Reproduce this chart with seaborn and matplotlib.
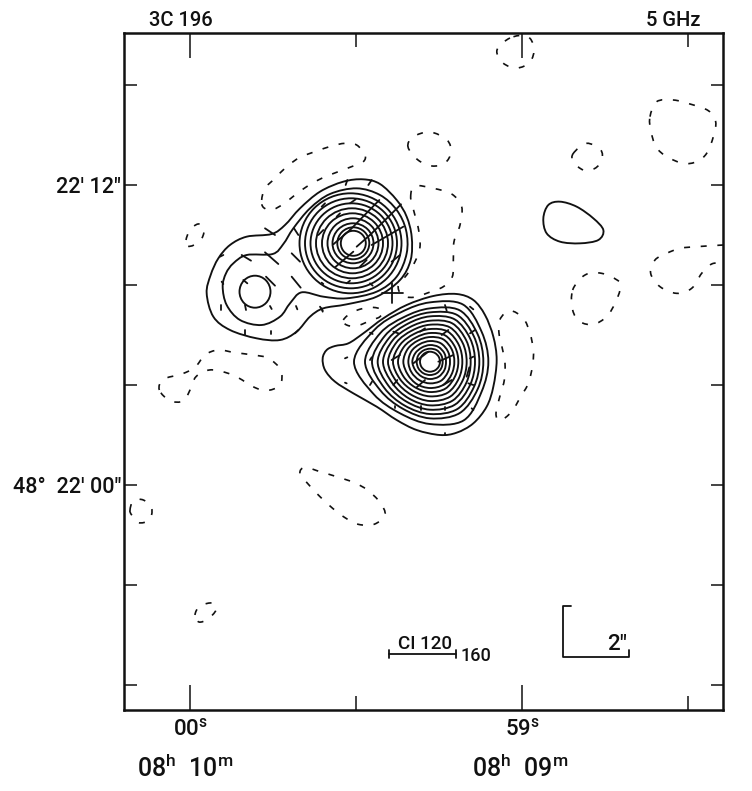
import numpy as np
import pandas as pd
import matplotlib
matplotlib.use("Agg")
import matplotlib.pyplot as plt
from matplotlib.path import Path
from matplotlib.patches import PathPatch, Ellipse
import seaborn as sns

sns.set_theme(style="white")
FONT = ["Roboto", "DejaVu Sans"]
plt.rcParams["font.family"] = FONT
plt.rcParams["font.weight"] = "medium"
plt.rcParams["mathtext.fontset"] = "custom"
plt.rcParams["mathtext.rm"] = "Roboto"
INK = "#111111"

# axis positions (map units)
x_major = [190, 522]
x_minor = [356, 688]
x_labels = ["00$^{\\mathrm{s}}$", "59$^{\\mathrm{s}}$"]
y_ticks = [85, 185, 285, 385, 485, 585, 685]
y_labels = ["", "22\u2032 12\u2033", "", "", "48\u00b0  22\u2032 00\u2033", "", ""]

# solid contours, read per crop
outer_a = [(50,520),(62,465),(85,415),(120,375),(170,350),(245,342),(285,315),(330,265),(390,215),(460,185),(520,178),(570,192),(620,240),(650,290),(665,350),(662,420),(630,480),(560,530),(470,553),(400,565),(360,590),(320,635),(270,660),(200,655),(120,630),(70,590)]
second_a = [(98,500),(108,460),(130,430),(170,405),(248,402),(280,372),(310,325),(360,265),(420,222),(500,205),(570,225),(620,270),(648,330),(650,400),(620,470),(560,515),(470,535),(400,530),(335,517),(300,550),(270,590),(215,615),(150,600),(110,555)]
outer_b = [(38,235),(50,210),(75,198),(115,190),(160,160),(220,115),(290,75),(370,48),(440,42),(490,60),(525,105),(550,170),(560,240),(550,320),(530,380),(490,430),(440,458),(390,465),(320,450),(260,420),(200,380),(130,340),(75,305),(45,270)]
blob_e = [(40,385),(55,345),(90,335),(140,350),(190,385),(220,420),(205,450),(150,460),(90,455),(50,430)]

# rings round peak A and lobe C
ring_a_cx = [350.5, 351, 351.5, 352, 352.5, 353, 353, 353.3, 353.3, 255]
ring_a_cy = [243.3, 243.3, 243.3, 243.3, 243.3, 243.3, 243.3, 243.3, 243.3, 291.7]
ring_a_rx = [51, 46, 41, 36, 30.5, 25.5, 20.5, 16, 12.5, 15.5]
ring_a_ry = [50, 45, 40, 35, 30, 25, 20, 16, 12.5, 16]

# rings round peak B: radius every 30 degrees counter-clockwise from east
peak_b = (430.0, 361.7)
rings_b = [
    [175,179,198,178,172,192,228,195,179,187,203,179],
    [160,165,178,160,155,172,195,172,163,170,178,165],
    [148,152,162,148,144,156,174,158,152,157,164,152],
    [135,139,147,136,132,142,157,144,139,144,149,139],
    [122,126,133,123,120,129,141,130,127,131,135,126],
    [110,113,119,111,108,116,126,117,114,118,121,113],
    [97,100,105,98,96,103,111,104,101,104,107,100],
    [85,87,91,86,84,90,96,91,89,91,93,87],
    [73,75,78,74,73,77,80,77,78,79,80,75],
    [60,62,64,62,61,64,65,64,64,65,66,62],
    [48,50,51,50,49,51,53,51,51,52,52,50],
    [38,39,40,39,39,40,40,40,40,40,40,39],
    [30,30,30,30,30,30,30,30,30,30,30,30],
]

# dashed contours
neg_arc = [(215,240),(225,205),(255,175),(290,140),(330,112),(375,95),(425,78),(465,70),(500,75),(525,105),(520,125),(490,138),(445,155),(395,175),(350,200),(315,225),(280,252),(245,270),(220,262)]
neg_top = [(408,147),(413,137),(430,132),(447,140),(451,152),(445,163),(432,166),(418,160)]
neg_mid = [(122,80),(135,48),(190,55),(245,72),(275,110),(270,165),(252,215),(250,270),(247,320),(220,350),(175,368),(130,382),(95,375),(85,345),(110,315),(135,275),(150,230),(145,175),(132,125)]
neg_cross = [(460,600),(490,575),(540,562),(578,570),(570,590),(545,600),(500,618),(470,615)]
neg_right_b = [(570,118),(600,92),(640,115),(660,160),(670,210),(668,255),(655,310),(632,350),(605,395),(570,422),(558,400),(572,340),(583,300),(585,250),(578,210),(567,160)]
neg_small_e = [(130,190),(170,160),(212,180),(215,210),(195,235),(160,240),(130,215)]
neg_ne = [(360,80),(380,35),(430,30),(480,42),(535,62),(557,95),(550,140),(530,190),(500,215),(460,220),(410,200),(378,170),(362,120)]
neg_edge = [(580,465),(500,470),(450,475),(410,490),(375,510),(362,550),(390,590),(440,610),(485,595),(515,550),(545,522),(580,518)]
neg_se = [(128,600),(165,555),(215,550),(268,575),(270,600),(255,640),(230,680),(190,703),(150,695),(128,660)]
neg_north = [(510,38),(497,50),(503,63),(517,68),(530,62),(534,48),(527,36)]
neg_west = [(186,240),(190,230),(198,224),(204,228),(202,238),(194,245),(187,246)]
neg_sw = [(118,150),(130,118),(185,102),(225,82),(255,45),(295,30),(345,38),(400,45),(445,55),(482,90),(480,135),(437,152),(395,138),(358,115),(315,97),(268,90),(228,110),(210,150),(190,183),(150,182)]
neg_drop = [(540,400),(555,382),(600,395),(650,410),(703,428),(742,450),(780,487),(795,525),(762,553),(715,553),(675,533),(638,505),(600,470),(567,435)]
neg_edge_w = [(30,510),(40,482),(70,480),(95,505),(88,540),(55,548),(35,525)]
neg_south = [(195,615),(200,606),(213,603),(216,610),(208,619),(199,622)]

# polarisation vectors: x0, y0, x1, y1
vec_a = [(395,260,405,250),(440,290,450,280),(480,250,497,238),(430,373,480,330),(480,330,568,240),(500,380,540,345),(540,345,633,253),(435,442,490,395),(510,440,530,420),(545,375,640,320),(467,195,472,180),(535,195,545,180),(225,325,255,345),(312,325,325,345),(90,410,100,405),(155,405,183,422),(225,397,265,432),(305,400,330,425),(305,470,332,503),(160,480,172,490),(228,470,255,497),(95,485,100,492),(92,555,92,570),(165,555,168,570),(240,558,245,567),(165,630,165,645),(242,633,242,643),(318,558,322,568),(315,640,325,630),(390,560,398,572),(385,345,400,330),(605,425,630,405),(540,490,548,497),(470,490,480,482),(395,488,400,492)]
vec_b = [(405,75,410,92),(480,80,490,88),(480,160,495,150),(250,155,265,160),(330,155,345,145),(395,165,415,150),(180,158,188,162),(105,235,112,232),(105,308,110,310),(180,240,185,232),(180,315,186,305),(245,240,270,225),(310,250,355,215),(385,245,430,225),(480,235,490,230),(250,315,262,300),(320,322,345,300),(400,315,425,300),(470,290,478,262),(475,310,490,315),(255,385,255,378),(332,390,332,378),(405,390,405,380),(485,385,490,390),(405,465,405,458),(35,85,38,95)]

# annotations
cross_h = [(382, 293), (403, 293)]
cross_v = [(392, 283), (392, 303)]
ci_bar = [(389, 654), (456, 654)]
ci_caps = [(389, 650, 389, 658), (456, 650, 456, 658)]
beam_l = [(571, 606), (563, 606), (563, 657), (629, 657), (629, 650)]


def crop(points, x0, y0, scale=3.0):
    return [(x0 + p[0] / scale, y0 + p[1] / scale) for p in points]


def closed_path(pts):
    p = np.asarray(pts, float)
    n = len(p)
    verts = [p[0]]
    codes = [Path.MOVETO]
    for i in range(n):
        p0, p1, p2, p3 = p[(i - 1) % n], p[i], p[(i + 1) % n], p[(i + 2) % n]
        verts += [p1 + (p2 - p0) / 6, p2 - (p3 - p1) / 6, p2]
        codes += [Path.CURVE4] * 3
    return Path(verts, codes)


def open_path(pts):
    p = np.asarray(pts, float)
    n = len(p)
    verts = [p[0]]
    codes = [Path.MOVETO]
    for i in range(n - 1):
        p0, p1, p2, p3 = p[max(i - 1, 0)], p[i], p[i + 1], p[min(i + 2, n - 1)]
        verts += [p1 + (p2 - p0) / 6, p2 - (p3 - p1) / 6, p2]
        codes += [Path.CURVE4] * 3
    return Path(verts, codes)


fig = plt.figure(figsize=(7.52, 7.91), dpi=100, facecolor="white")
ax = fig.add_axes([124 / 752, 1 - 710 / 791, 599 / 752, 677 / 791])
ax.set_xlim(124, 723)
ax.set_ylim(710, 33)
ax.set_facecolor("white")
for s in ax.spines.values():
    s.set_linewidth(1.8)
    s.set_color(INK)

ax.set_xticks(x_major, x_labels)
ax.set_xticks(x_minor, minor=True)
ax.set_yticks(y_ticks, y_labels)
ax.tick_params(axis="x", which="major", direction="in", length=18, width=1.1, top=True, bottom=True,
               color=INK, labelsize=16, labelcolor=INK, pad=6)
ax.tick_params(axis="x", which="minor", direction="in", length=10, width=1.1, top=True, bottom=True, color=INK)
ax.tick_params(axis="y", direction="in", length=9, width=1.1, left=True, right=True,
               color=INK, labelsize=15.5, labelcolor=INK, pad=2)

solid = dict(fill=False, edgecolor=INK, linewidth=1.35, zorder=3)
dashed = dict(fill=False, edgecolor=INK, linewidth=1.2, linestyle=(0, (3.6, 6.4)), zorder=3)

for pts in (crop(outer_a, 190, 120), crop(second_a, 190, 120), crop(outer_b, 310, 280), crop(blob_e, 530, 90)):
    ax.add_patch(PathPatch(closed_path(pts), **solid))

for cx, cy, rx, ry in zip(ring_a_cx, ring_a_cy, ring_a_rx, ring_a_ry):
    ax.add_patch(Ellipse((cx, cy), 2 * rx, 2 * ry, **solid))

angles = np.deg2rad(np.arange(0, 360, 30))
for radii in rings_b:
    r = np.asarray(radii) / 3.0
    ring = list(zip(peak_b[0] + r * np.cos(angles), peak_b[1] - r * np.sin(angles)))
    ax.add_patch(PathPatch(closed_path(ring), **solid))

closed_dashed = (
    crop(neg_arc, 190, 120), neg_top, crop(neg_mid, 370, 170), crop(neg_cross, 190, 120),
    crop(neg_right_b, 310, 280), crop(neg_small_e, 530, 90), crop(neg_ne, 530, 90),
    crop(neg_se, 530, 90), neg_north, neg_west, crop(neg_sw, 120, 340),
    crop(neg_drop, 120, 340), crop(neg_edge_w, 120, 340), neg_south,
)
for pts in closed_dashed:
    ax.add_patch(PathPatch(closed_path(pts), **dashed))
ax.add_patch(PathPatch(open_path(crop(neg_edge, 530, 90)), **dashed))

# vectors and annotation strokes through seaborn
rows = []
sid = 0
for segs, x0, y0 in ((vec_a, 190, 120), (vec_b, 310, 280)):
    for a, b, c, d in segs:
        rows += [(x0 + a / 3, y0 + b / 3, sid), (x0 + c / 3, y0 + d / 3, sid)]
        sid += 1
for a, b, c, d in ci_caps:
    rows += [(a, b, sid), (c, d, sid)]
    sid += 1
for poly in (cross_h, cross_v, ci_bar, beam_l):
    rows += [(p[0], p[1], sid) for p in poly]
    sid += 1
frame = pd.DataFrame(rows, columns=["x", "y", "seg"])
sns.lineplot(data=frame, x="x", y="y", units="seg", estimator=None, sort=False,
             color=INK, linewidth=1.3, legend=False, ax=ax, zorder=4)
ax.set_xlabel("")
ax.set_ylabel("")
ax.set_xlim(124, 723)
ax.set_ylim(710, 33)

# text
ax.text(181, 20, "3C 196", ha="center", va="center", fontsize=14.5, color=INK, clip_on=False)
ax.text(673, 20, "5 GHz", ha="center", va="center", fontsize=14.5, color=INK, clip_on=False)
ax.text(425, 644, "CI 120", ha="center", va="center", fontsize=13.5, color=INK)
ax.text(476, 656, "160", ha="center", va="center", fontsize=13, color=INK)
ax.text(617, 645, "2\u2033", ha="center", va="center", fontsize=16, color=INK)
ax.text(185, 768, "08$^{\\mathrm{h}}$  10$^{\\mathrm{m}}$", ha="center", va="center", fontsize=18, color=INK, clip_on=False)
ax.text(520, 768, "08$^{\\mathrm{h}}$  09$^{\\mathrm{m}}$", ha="center", va="center", fontsize=18, color=INK, clip_on=False)

fig.savefig("out.png", dpi=100, facecolor="white")
